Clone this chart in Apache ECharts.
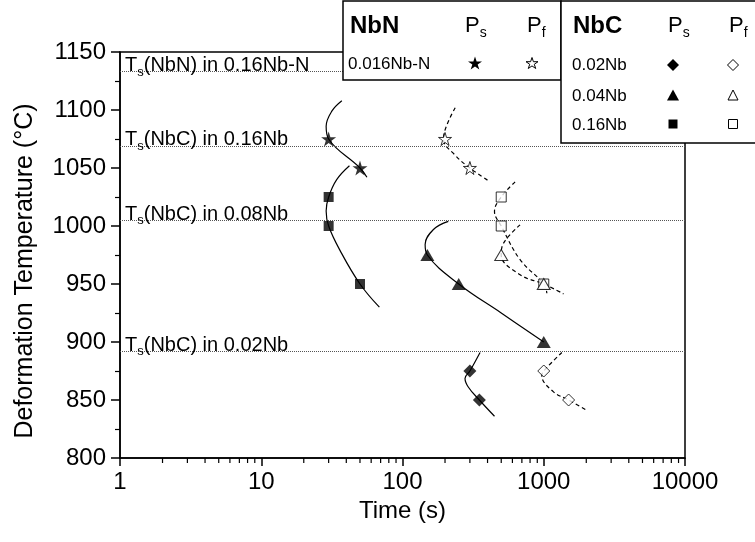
<!DOCTYPE html>
<html>
<head>
<meta charset="utf-8">
<script src="https://cdn.jsdelivr.net/npm/echarts@6.0.0/dist/echarts.min.js"></script>
<style>
  html, body { margin: 0; padding: 0; background: #fff; }
  #chart { width: 755px; height: 542px; }
</style>
</head>
<body>
<div id="chart"></div>
<script>
// precipitation start (Ps) / finish (Pf) times [time (s), deformation temperature (°C)]
const nbnPs = [[30, 1075], [50, 1050]];
const nbnPf = [[200, 1075], [300, 1050]];
const nb02Ps = [[300, 875], [350, 850]];
const nb02Pf = [[1000, 875], [1500, 850]];
const nb04Ps = [[150, 975], [250, 950], [1000, 900]];
const nb04Pf = [[500, 975], [1000, 950]];
const nb16Ps = [[30, 1025], [30, 1000], [50, 950]];
const nb16Pf = [[500, 1025], [500, 1000], [1000, 950]];

// hand drawn C-curves
const nbnPsCurve = [[37.2, 1108], [31.6, 1099], [28.8, 1086], [30, 1075], [50, 1050], [56, 1042]];
const nbnPfCurve = [[236, 1102], [206, 1087], [195, 1075], [236, 1061], [300, 1050], [406, 1039]];
const nb16PsCurve = [[42.1, 1052], [34.2, 1040], [30, 1025], [28.8, 1013], [30, 1000], [36.1, 979], [50, 950], [68.6, 930]];
const nb16PfCurve = [[627, 1038], [500, 1025], [448, 1012.5], [500, 1000], [680, 971], [1000, 950], [1052, 942]];
const nb04PsCurve = [[211, 1004], [165.6, 997], [144.6, 984], [150, 975], [250, 950], [500, 925], [1000, 900]];
const nb04PfCurve = [[680, 1001], [518, 985], [500, 975], [680, 958], [1000, 950], [1380, 941.5]];
const nb02PsCurve = [[354, 891], [300, 875], [277, 868.6], [293, 861], [350, 850], [448, 836]];
const nb02PfCurve = [[1343, 891], [1000, 875], [969, 871], [1172, 857], [1500, 850], [2042, 840.6]];

// solvus temperatures
const tsTemps = [1133, 1069, 1005, 892];
const tsPhases = ['NbN', 'NbC', 'NbC', 'NbC'];
const tsAlloys = ['0.16Nb-N', '0.16Nb', '0.08Nb', '0.02Nb'];

const xTicks = [1, 10, 100, 1000, 10000];
const yTicks = [800, 850, 900, 950, 1000, 1050, 1100, 1150];

const STAR = 'M50 0L61.17 34.63L97.55 34.55L68.07 55.87L79.39 90.45L50 69L20.61 90.45L31.93 55.87L2.45 34.55L38.83 34.63Z';
const DIAMOND = 'M50 0L100 50L50 100L0 50Z';
const TRIANGLE = 'M50 0L100 90L0 90Z';
const SQUARE = 'M0 0L100 0L100 100L0 100Z';
const FONT = '"Liberation Sans", Arial, sans-serif';

// minor ticks of the log axis (2..9 of each decade)
const xMinor = [];
for (let d = 1; d < 10000; d *= 10) {
  for (let k = 2; k <= 9; k++) xMinor.push(k * d);
}

const chart = echarts.init(document.getElementById('chart'));

function curve(data, dashed) {
  return {
    type: 'line', data: data, smooth: 0.4, showSymbol: false, silent: true,
    lineStyle: { color: '#000', width: 1.2, type: dashed ? [4, 3] : 'solid' }
  };
}

function marks(data, path, size, open) {
  return {
    type: 'scatter', data: data, symbol: 'path://' + path, symbolSize: size, silent: true, z: 5,
    itemStyle: open ? { color: '#fff', borderColor: '#000', borderWidth: 1 } : { color: '#000' }
  };
}

let option = {
  animation: false,
  backgroundColor: '#fff',
  textStyle: { fontFamily: FONT, color: '#000' },
  grid: {
    left: 120, right: 70, top: 52, bottom: 84,
    show: true, borderColor: '#000', borderWidth: 1.5
  },
  xAxis: {
    type: 'log', logBase: 10, min: xTicks[0], max: xTicks[xTicks.length - 1],
    name: 'Time (s)', nameLocation: 'middle', nameGap: 40,
    nameTextStyle: { fontSize: 24, color: '#000', fontFamily: FONT },
    axisLine: { lineStyle: { color: '#000', width: 1.5 } },
    axisTick: { length: 8, lineStyle: { color: '#000', width: 1.5 } },
    axisLabel: { fontSize: 24, margin: 12, color: '#000', fontFamily: FONT, formatter: v => String(Math.round(v)) },
    splitLine: { show: false }
  },
  yAxis: {
    type: 'value', min: yTicks[0], max: yTicks[yTicks.length - 1], interval: 50,
    name: 'Deformation Temperature (°C)', nameLocation: 'middle', nameGap: 82,
    nameTextStyle: { fontSize: 25, color: '#000', fontFamily: FONT, padding: [0, 32, 0, 0] },
    axisLine: { show: true, lineStyle: { color: '#000', width: 1.5 } },
    axisTick: { length: 9, lineStyle: { color: '#000', width: 1.5 } },
    minorTick: { show: true, splitNumber: 2, length: 5, lineStyle: { color: '#000', width: 1.2 } },
    axisLabel: { fontSize: 24, margin: 14, color: '#000', fontFamily: FONT, formatter: v => String(v) },
    splitLine: { show: false }
  },
  series: [
    {
      type: 'line', data: [], silent: true,
      markLine: {
        silent: true, symbol: ['none', 'none'], label: { show: false },
        lineStyle: { color: '#555', type: [1, 1], width: 1 },
        data: tsTemps.map(t => ({ yAxis: t }))
      }
    },
    curve(nbnPsCurve, false),
    curve(nbnPfCurve, true),
    curve(nb16PsCurve, false),
    curve(nb16PfCurve, true),
    curve(nb04PsCurve, false),
    curve(nb04PfCurve, true),
    curve(nb02PsCurve, false),
    curve(nb02PfCurve, true),
    marks(nbnPs, STAR, 15, false),
    marks(nbnPf, STAR, 13, true),
    marks(nb16Ps, SQUARE, 10, false),
    marks(nb16Pf, SQUARE, 10, true),
    marks(nb04Ps, TRIANGLE, [14, 12], false),
    marks(nb04Pf, TRIANGLE, [13, 11], true),
    marks(nb02Ps, DIAMOND, 13, false),
    marks(nb02Pf, DIAMOND, 12, true),
    {
      type: 'custom', silent: true, clip: false,
      data: xMinor.map(v => [v, yTicks[0]]),
      renderItem: function (params, api) {
        const p = api.coord([api.value(0), api.value(1)]);
        return {
          type: 'line',
          shape: { x1: p[0], y1: p[1], x2: p[0], y2: p[1] + 5 },
          style: { stroke: '#000', lineWidth: 1.2 }
        };
      }
    }
  ]
};
chart.setOption(option);

// text with a subscript, placed by its baseline
function subText(x, baseline, pre, sub, post, size, weight) {
  return {
    type: 'text', x: x, y: baseline + 7, z: 100,
    style: {
      text: '{m|' + pre + '}{s|' + sub + '}' + (post ? '{m|' + post + '}' : ''),
      align: 'left', verticalAlign: 'bottom',
      rich: {
        m: { fontSize: size, fontFamily: FONT, fontWeight: weight || 'normal', lineHeight: size + 6, fill: '#000' },
        s: { fontSize: Math.round(size * 0.65), fontFamily: FONT, lineHeight: 12, verticalAlign: 'bottom', fill: '#000' }
      }
    }
  };
}

function plain(x, y, text, size, weight) {
  return {
    type: 'text', x: x, y: y, z: 100,
    style: { text: text, fontSize: size, fontFamily: FONT, fontWeight: weight || 'normal', fill: '#000', align: 'left', verticalAlign: 'middle' }
  };
}

// legend symbol: the marker outline scaled into a w x h box centred on (cx, cy)
function sym(cx, cy, path, w, h, open) {
  const nums = path.match(/-?[\d.]+/g).map(Number);
  const pts = [];
  for (let i = 0; i < nums.length; i += 2) pts.push([nums[i], nums[i + 1]]);
  const xs = pts.map(p => p[0]), ys = pts.map(p => p[1]);
  const x0 = Math.min(...xs), x1 = Math.max(...xs), y0 = Math.min(...ys), y1 = Math.max(...ys);
  return {
    type: 'polygon', z: 100,
    shape: { points: pts.map(p => [cx - w / 2 + (p[0] - x0) / (x1 - x0) * w, cy - h / 2 + (p[1] - y0) / (y1 - y0) * h]) },
    style: open ? { fill: '#fff', stroke: '#000', lineWidth: 1 } : { fill: '#000' }
  };
}

const graphics = [];
tsTemps.forEach(function (t, i) {
  const p = chart.convertToPixel({ gridIndex: 0 }, [xTicks[0], t]);
  graphics.push(subText(p[0] + 5, p[1], 'T', 's', '(' + tsPhases[i] + ') in ' + tsAlloys[i], 20));
});

// legend boxes
graphics.push({
  type: 'rect', z: 90, shape: { x: 343, y: 1, width: 218, height: 79 },
  style: { fill: '#fff', stroke: '#000', lineWidth: 1.5 }
});
graphics.push({
  type: 'rect', z: 90, shape: { x: 561, y: 1, width: 230, height: 142 },
  style: { fill: '#fff', stroke: '#000', lineWidth: 1.5 }
});
graphics.push(plain(350, 26, 'NbN', 24, 'bold'));
graphics.push(subText(465, 33, 'P', 's', '', 22));
graphics.push(subText(527, 33, 'P', 'f', '', 22));
graphics.push(plain(348, 64, '0.016Nb-N', 17));
graphics.push(sym(475, 63, STAR, 14, 13, false));
graphics.push(sym(532, 63, STAR, 12, 11, true));

graphics.push(plain(573, 26, 'NbC', 24, 'bold'));
graphics.push(subText(668, 33, 'P', 's', '', 22));
graphics.push(subText(729, 33, 'P', 'f', '', 22));
graphics.push(plain(572, 65, '0.02Nb', 17));
graphics.push(plain(572, 96, '0.04Nb', 17));
graphics.push(plain(572, 125, '0.16Nb', 17));
graphics.push(sym(673, 65, DIAMOND, 12, 12, false));
graphics.push(sym(733, 65, DIAMOND, 11, 11, true));
graphics.push(sym(673, 95, TRIANGLE, 12, 11, false));
graphics.push(sym(733, 95, TRIANGLE, 10, 10, true));
graphics.push(sym(673, 124, SQUARE, 9, 9, false));
graphics.push(sym(733, 124, SQUARE, 9, 9, true));

chart.setOption({ graphic: graphics });
</script>
</body>
</html>
